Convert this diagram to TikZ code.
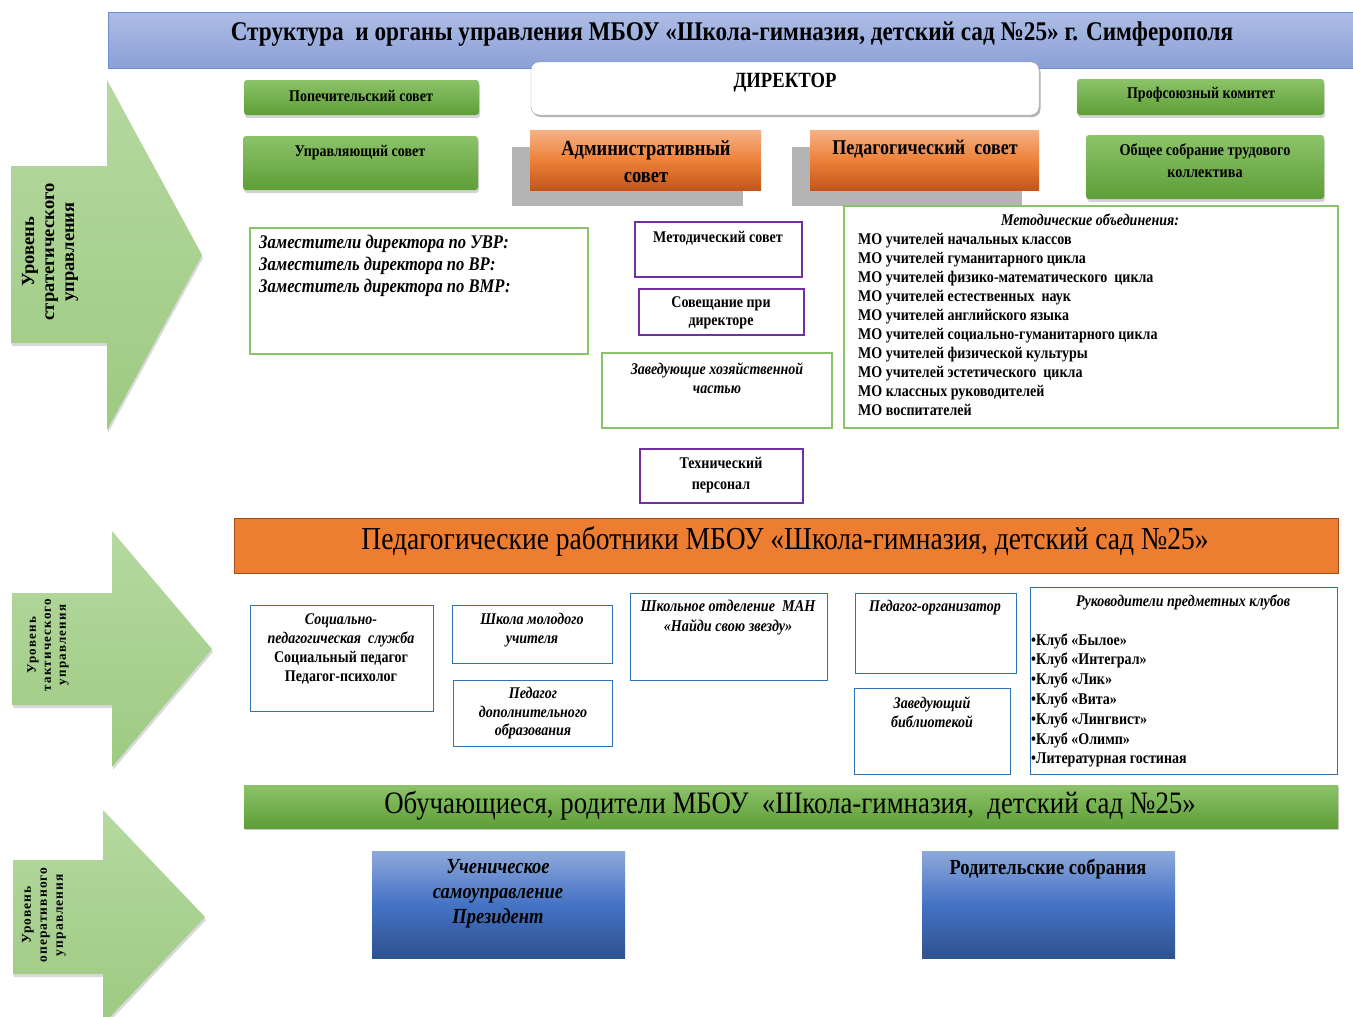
\documentclass[tikz,border=0pt]{standalone}
\usepackage{fontspec}
\setmainfont{Liberation Serif}[FakeStretch=0.86]
\newfontfamily\widefont{Liberation Serif}
\usetikzlibrary{shadows}

\definecolor{titletop}{HTML}{AEBDE5}
\definecolor{titlebot}{HTML}{8BA0D6}
\definecolor{titleline}{HTML}{6F8FD0}
\definecolor{gtop}{HTML}{8CC369}
\definecolor{gbot}{HTML}{5E9E37}
\definecolor{otop}{HTML}{F5B186}
\definecolor{omid}{HTML}{EE8139}
\definecolor{obot}{HTML}{C0561A}
\definecolor{shadegrey}{HTML}{B4B4B4}
\definecolor{arrowtop}{HTML}{B5D9A0}
\definecolor{arrowbot}{HTML}{9ECA82}
\definecolor{purpleline}{HTML}{7030A0}
\definecolor{greenline}{HTML}{8BC36B}
\definecolor{blueline}{HTML}{2E75B6}
\definecolor{bannerorange}{HTML}{ED7D31}
\definecolor{bannerline}{HTML}{A44E1C}
\definecolor{btop}{HTML}{8EA9DB}
\definecolor{bmid}{HTML}{4472C4}
\definecolor{bbot}{HTML}{2F528F}

\newcommand{\fs}[2]{\fontsize{#1}{#2}\selectfont}

\tikzset{
  greenbox/.style={rounded corners=3pt, top color=gtop, bottom color=gbot,
    drop shadow={shadow xshift=1pt, shadow yshift=-3pt, opacity=0.35}},
  orangebox/.style={top color=otop, bottom color=obot, middle color=omid},
  greybox/.style={fill=shadegrey},
  levelarrow/.style={top color=arrowtop, bottom color=arrowbot,
    drop shadow={shadow xshift=1pt, shadow yshift=-3pt, opacity=0.3}},
  purplebox/.style={draw=purpleline, line width=1.2pt, fill=white},
  greenframe/.style={draw=greenline, line width=1.2pt, fill=white},
  blueframe/.style={draw=blueline, line width=1pt, fill=white},
  bluebox/.style={top color=btop, bottom color=bbot, middle color=bmid},
  txt/.style={inner sep=0pt, align=center, font=\bfseries\fs{16.3}{19}},
  itxt/.style={inner sep=0pt, align=center, font=\bfseries\itshape\fs{16.3}{19}},
  leveltxt/.style={inner sep=0pt, align=center, rotate=90}
}

\begin{document}
\begin{tikzpicture}[x=1pt,y=-1pt]
  \useasboundingbox (0,0) rectangle (1353,1017);
  % level arrows
  \path[levelarrow] (11,166) -- (107,166) -- (107,80) -- (202,255) -- (107,430) -- (107,343) -- (11,343) -- cycle;
  \path[levelarrow] (12,593) -- (112,593) -- (112,531) -- (212,649) -- (112,767) -- (112,705) -- (12,705) -- cycle;
  \path[levelarrow] (13,860) -- (103,860) -- (103,810) -- (205,917) -- (110,1017) -- (103,1017) -- (103,974) -- (13,974) -- cycle;
  \node[leveltxt, font=\widefont\bfseries\fs{18.5}{20}] (strat) at (50,252) {Уровень\\стратегического\\управления};
  \node[leveltxt, font=\widefont\bfseries\fs{13}{15}\addfontfeature{LetterSpace=9}] (takt) at (48,645) {Уровень\\тактического\\управления};
  \node[leveltxt, font=\widefont\bfseries\fs{13.5}{16}\addfontfeature{LetterSpace=8}] (oper) at (44,915) {Уровень\\оперативного\\управления};

  % title
  \draw[titleline, top color=titletop, bottom color=titlebot] (108,12) rectangle (1353,68);
  \node[txt, font=\bfseries\fs{27}{30}] (title) at (732,34) {Структура\ \ и органы управления МБОУ «Школа-гимназия, детский сад №25» г. Симферополя};

  % director and councils
  \draw[rounded corners=8pt, draw=gray!70, fill=white, drop shadow={shadow xshift=1.5pt, shadow yshift=-2pt, opacity=0.6}] (531,62) rectangle (1039,115);
  \node[txt, font=\bfseries\fs{21.7}{24}] (director) at (785,83) {ДИРЕКТОР};
  \path[greenbox] (244,80) rectangle (479,115);
  \node[txt] (popech) at (361,96) {Попечительский совет};
  \path[greenbox] (243,136) rectangle (478,190);
  \node[txt] (upravl) at (360,153) {Управляющий совет};
  \path[greenbox] (1077,79) rectangle (1324,115);
  \node[txt] (prof) at (1201,95) {Профсоюзный комитет};
  \path[greenbox] (1086,135) rectangle (1324,199);
  \node[txt, font=\bfseries\fs{16.5}{22}] (sobranie) at (1205,161) {Общее собрание трудового\\коллектива};
  \path[greybox] (512,147) rectangle (743,206);
  \path[orangebox] (530,130) rectangle (761,190);
  \node[txt, font=\bfseries\fs{21.5}{27}] (admin) at (646,162) {Административный\\совет};
  \path[greybox] (792,147) rectangle (1022,206);
  \path[orangebox] (810,130) rectangle (1039,190);
  \node[txt, font=\bfseries\fs{21}{27}] (pedsov) at (925,149) {Педагогический\ \ совет};

  % strategic level boxes
  \draw[greenframe] (250,228) rectangle (588,354);
  \node[itxt, align=left, anchor=west, font=\bfseries\itshape\fs{19.3}{22}] (zam) at (259,266) {Заместители директора по УВР:\\Заместитель директора по ВР:\\Заместитель директора по ВМР:};
  \draw[purplebox] (635,222) rectangle (802,277);
  \node[txt] (metsov) at (718,238) {Методический совет};
  \draw[purplebox] (639,289) rectangle (804,335);
  \node[txt, font=\bfseries\fs{16.3}{18}] (soveshch) at (721,313) {Совещание при\\директоре};
  \draw[greenframe] (602,353) rectangle (832,428);
  \node[itxt] (hoz) at (717,378) {Заведующие хозяйственной\\частью};
  \draw[purplebox] (640,449) rectangle (803,503);
  \node[txt, font=\bfseries\fs{16.3}{21}] (tehn) at (721,475) {Технический\\персонал};
  \draw[greenframe] (844,206) rectangle (1338,428);
  \node[itxt] (mohead) at (1090,220) {Методические объединения:};
  \node[txt, align=left, anchor=west] (molist) at (858,324.5) {МО учителей начальных классов\\МО учителей гуманитарного цикла\\МО учителей физико-математического\ \ цикла\\МО учителей естественных\ \ наук\\МО учителей английского языка\\МО учителей социально-гуманитарного цикла\\МО учителей физической культуры\\МО учителей эстетического\ \ цикла\\МО классных руководителей\\МО воспитателей};

  % tactical level
  \draw[bannerline, fill=bannerorange] (234,518) rectangle (1338,573);
  \node[txt, font=\fs{32}{34}] (pedrab) at (785,541) {Педагогические работники МБОУ «Школа-гимназия, детский сад №25»};
  \draw[blueframe] (250,605) rectangle (433,711);
  \node[txt] (social) at (341,649.5) {\itshape Социально-\\\itshape педагогическая\ \ служба\\Социальный педагог\\Педагог-психолог};
  \draw[blueframe] (452,605) rectangle (612,663);
  \node[itxt] (molod) at (532,630.5) {Школа молодого\\учителя};
  \draw[blueframe] (453,680) rectangle (612,746);
  \node[itxt, font=\bfseries\itshape\fs{16.3}{18.5}] (dopobr) at (533,713.5) {Педагог\\дополнительного\\образования};
  \draw[blueframe] (630,593) rectangle (827,680);
  \node[itxt, font=\bfseries\itshape\fs{16.5}{20}] (man) at (728,618) {Школьное отделение\ \ МАН\\«Найди свою звезду»};
  \draw[blueframe] (855,593) rectangle (1016,673);
  \node[itxt] (orgpedagog) at (935,608) {Педагог-организатор};
  \draw[blueframe] (854,688) rectangle (1010,774);
  \node[itxt] (bibl) at (932,712.5) {Заведующий\\библиотекой};
  \draw[blueframe] (1030,587) rectangle (1337,774);
  \node[itxt] (klubhead) at (1183,602) {Руководители предметных клубов};
  \node[txt, align=left, anchor=west, font=\bfseries\fs{16.3}{19.8}] (klubs) at (1031,700.5) {•Клуб «Былое»\\•Клуб «Интеграл»\\•Клуб «Лик»\\•Клуб «Вита»\\•Клуб «Лингвист»\\•Клуб «Олимп»\\•Литературная гостиная};

  % operational level
  \path[top color=gtop, bottom color=gbot, drop shadow={shadow xshift=1pt, shadow yshift=-2pt, opacity=0.4}] (244,785) rectangle (1338,828);
  \node[txt, font=\fs{31.2}{32}] (obuch) at (790,806) {Обучающиеся, родители МБОУ\ \ «Школа-гимназия,\ \ детский сад №25»};
  \path[bluebox] (372,851) rectangle (625,958);
  \node[itxt, font=\bfseries\itshape\fs{21.5}{25}] (uchen) at (498,894) {Ученическое\\самоуправление\\Президент};
  \path[bluebox] (922,851) rectangle (1175,958);
  \node[txt, font=\bfseries\fs{21.5}{22}] (rodit) at (1048,869) {Родительские собрания};
\end{tikzpicture}
\end{document}
